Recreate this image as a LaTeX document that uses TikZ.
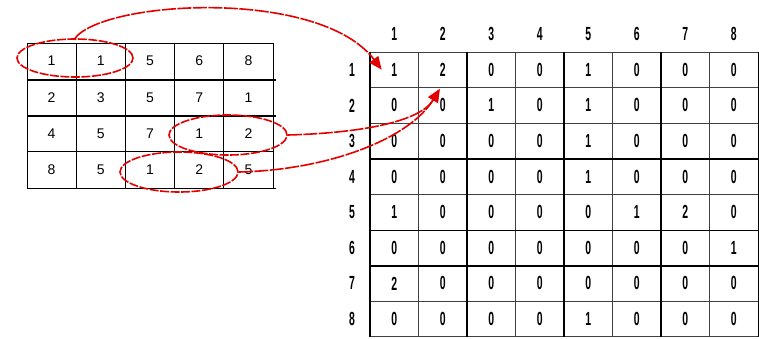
\documentclass[tikz,border=0pt]{standalone}
\usepackage{fontspec}
\setmainfont{Liberation Sans}
\usepackage{graphicx}
\usetikzlibrary{positioning, arrows.meta, shapes.geometric, calc}

\newcommand{\slim}[1]{\scalebox{0.55}[1]{#1}}

\tikzset{
  lcell/.style={draw, line width=1pt, minimum width=49.2pt, minimum height=36.25pt, inner sep=0pt, font=\fontsize{14}{14}\selectfont},
  gcell/.style={draw=black!75, line width=0.7pt, minimum width=48.5pt, minimum height=35.6pt, inner sep=0pt, font=\bfseries\fontsize{19}{19}\selectfont},
  hdr/.style={inner sep=0pt, font=\bfseries\fontsize{19}{19}\selectfont},
  pair/.style={ellipse, draw=red!90!black, line width=1.6pt, dash pattern=on 9pt off 1.5pt, minimum width=118pt, minimum height=40pt, inner sep=0pt},
  link/.style={red!90!black, line width=1.6pt, dash pattern=on 14pt off 1.5pt, -{Triangle[length=13pt, width=11pt]}}
}

\begin{document}
\begin{tikzpicture}[x=1pt, y=-1pt]
\useasboundingbox (0,0) rectangle (759,338);

% input image
\foreach \row [count=\r] in {{1,1,5,6,8},{2,3,5,7,1},{4,5,7,1,2},{8,5,1,2,5}} {
  \foreach \v [count=\c] in \row {
    \node[lcell] (L-\r-\c) at ({27+49.2*(\c-0.5)}, {43+36.25*(\r-0.5)}) {\v};
  }
}
\foreach \r in {1,2,4}
  \draw[line width=1.6pt] (L-\r-1.south west) -- ($(L-\r-5.south east)+(2,0)$);

% co-occurrence matrix
\foreach \row [count=\r] in {{1,2,0,0,1,0,0,0},{0,0,1,0,1,0,0,0},{0,0,0,0,1,0,0,0},{0,0,0,0,1,0,0,0},{1,0,0,0,0,1,2,0},{0,0,0,0,0,0,0,1},{2,0,0,0,0,0,0,0},{0,0,0,0,1,0,0,0}} {
  \foreach \v [count=\c] in \row {
    \node[gcell] (G-\r-\c) at ({370+48.5*(\c-0.5)}, {52+35.6*(\r-0.5)}) {\slim{\v}};
  }
}
\foreach \c in {1,...,8} {
  \node[hdr] (C-\c) at ({370+48.5*(\c-0.5)}, 34) {\slim{\c}};
  \node[hdr] (R-\c) at (352, {52+35.6*(\c-0.5)}) {\slim{\c}};
}
\foreach \c in {1,3,5,7}
  \draw[line width=1.7pt] (G-1-\c.north west) -- (G-8-\c.south west);
\draw[line width=1.7pt] (G-1-8.north east) -- (G-8-8.south east);
\foreach \r in {3,5,6}
  \draw[line width=1.7pt] (G-\r-1.south west) -- (G-\r-8.south east);

% neighbour pairs
\node[pair, minimum width=116pt, minimum height=38pt] (p1) at (75,58) {};
\node[pair] (p2) at (228,135) {};
\node[pair] (p3) at (179,172) {};

\coordinate (t1) at ($(G-1-1.north west)+(12,18)$);
\coordinate (t2) at ($(G-1-2.south)+(-3,1)$);

\draw[link] (p1.north) .. controls (105,0) and (320,-12) .. (t1);
\draw[link] (p2.east) .. controls (360,133) and (420,122) .. (t2);
\draw[link] (p3.east) .. controls (330,170) and (410,138) .. (t2);
\end{tikzpicture}
\end{document}
